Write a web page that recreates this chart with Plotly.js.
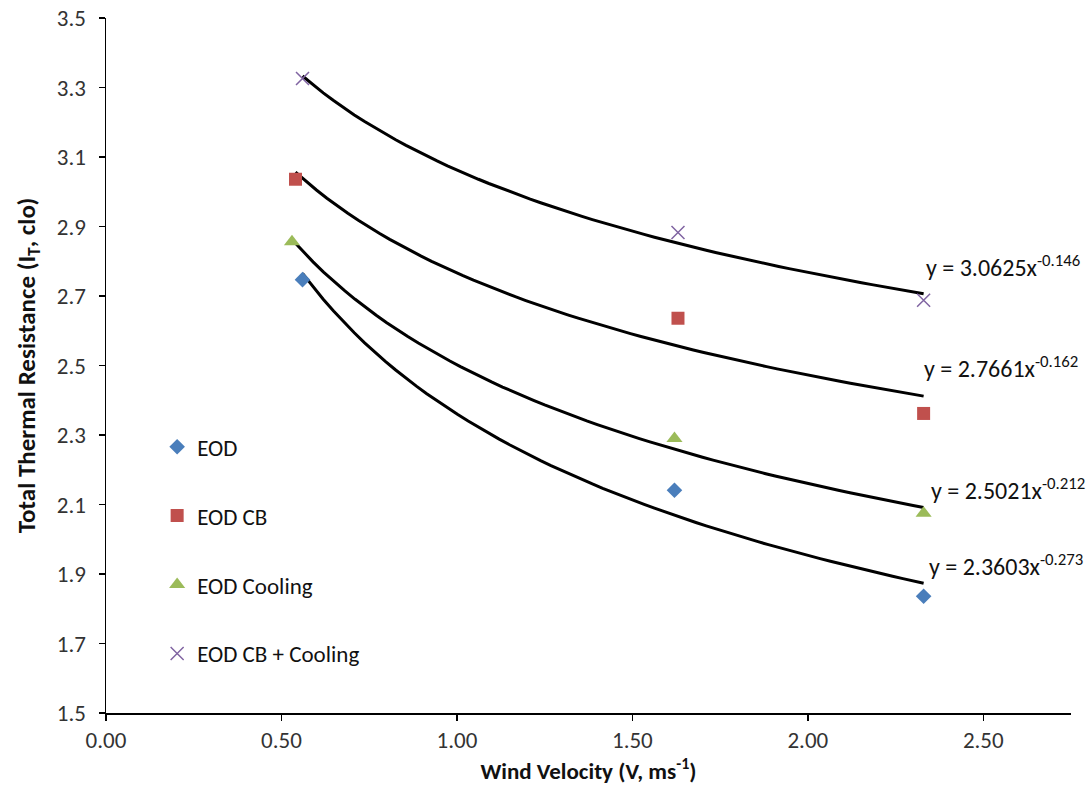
<!DOCTYPE html>
<html>
<head>
<meta charset="utf-8">
<script src="https://cdn.plot.ly/plotly-3.0.1.min.js"></script>
<style>html,body{margin:0;padding:0;background:#fff;}#chart{width:1086px;height:789px;}</style>
</head>
<body>
<div id="chart"></div>
<script>
// Series names
const seriesNames = ["EOD", "EOD CB", "EOD Cooling", "EOD CB + Cooling"];
// Wind velocity (x) per series
const xEOD = [0.56, 1.62, 2.33];
const xEODCB = [0.54, 1.63, 2.33];
const xEODCooling = [0.53, 1.62, 2.33];
const xEODCBCooling = [0.56, 1.63, 2.33];
// Total thermal resistance (y) per series
const yEOD = [2.747, 2.141, 1.836];
const yEODCB = [3.036, 2.636, 2.362];
const yEODCooling = [2.856, 2.290, 2.075];
const yEODCBCooling = [3.326, 2.883, 2.688];
// Power trendline coefficients shown on the chart: y = a * x^b
const trendA = [2.3603, 2.7661, 2.5021, 3.0625];
const trendB = [-0.273, -0.162, -0.212, -0.146];
const trendLabels = ["y = 2.3603x<sup>-0.273</sup>", "y = 2.7661x<sup>-0.162</sup>", "y = 2.5021x<sup>-0.212</sup>", "y = 3.0625x<sup>-0.146</sup>"];
const labelPosX = [2.34, 2.325, 2.345, 2.33];
const labelPosY = [1.925, 2.495, 2.145, 2.785];
// Tick labels
const xTickVals = [0, 0.5, 1, 1.5, 2, 2.5];
const xTickText = ["0.00", "0.50", "1.00", "1.50", "2.00", "2.50"];
const yTickVals = [1.5, 1.7, 1.9, 2.1, 2.3, 2.5, 2.7, 2.9, 3.1, 3.3, 3.5];
const yTickText = ["1.5", "1.7", "1.9", "2.1", "2.3", "2.5", "2.7", "2.9", "3.1", "3.3", "3.5"];

const xs = [xEOD, xEODCB, xEODCooling, xEODCBCooling];
const ys = [yEOD, yEODCB, yEODCooling, yEODCBCooling];
const colors = ["#4A7EBB", "#C0504D", "#9BBB59", "#8064A2"];
const symbols = ["diamond", "square", "triangle-up", "x-thin"];
const sizes = [12, 13, 14, 13];

const FONT = "Carlito, Calibri, Lato, 'Open Sans', sans-serif";

const traces = [];
// trendlines (drawn first, under markers)
for (let i = 0; i < 4; i++) {
  const xmin = Math.min(...xs[i]), xmax = Math.max(...xs[i]);
  const tx = [], ty = [];
  const n = 60;
  for (let k = 0; k <= n; k++) {
    const x = xmin + (xmax - xmin) * k / n;
    tx.push(x);
    ty.push(trendA[i] * Math.pow(x, trendB[i]));
  }
  traces.push({x: tx, y: ty, mode: "lines", type: "scatter", showlegend: false, hoverinfo: "skip",
    line: {color: "#000", width: 3}});
}
for (let i = 0; i < 4; i++) {
  const m = {symbol: symbols[i], size: sizes[i], color: colors[i]};
  if (symbols[i] === "x-thin") m.line = {color: colors[i], width: 1.5};
  traces.push({x: xs[i], y: ys[i], name: seriesNames[i], mode: "markers", type: "scatter",
    legendgroup: "g" + i, marker: m});
}

const annotations = trendLabels.map((t, i) => ({
  x: labelPosX[i], y: labelPosY[i], xref: "x", yref: "y", text: t, showarrow: false,
  xanchor: "left", yanchor: "middle", font: {family: FONT, size: 24, color: "#111"}
}));

const layout = {
  width: 1086, height: 789,
  margin: {l: 106, r: 15, t: 18, b: 76},
  paper_bgcolor: "#fff", plot_bgcolor: "#fff",
  font: {family: FONT, size: 23, color: "#333"},
  showlegend: true,
  legend: {x: 0.053, y: 0.414, xanchor: "left", yanchor: "top", traceorder: "grouped",
    tracegroupgap: 36, font: {family: FONT, size: 23, color: "#111"}, bgcolor: "rgba(0,0,0,0)"},
  xaxis: {range: [0, 2.75], tickvals: xTickVals, ticktext: xTickText,
    showgrid: false, zeroline: false, showline: true, linecolor: "#000", linewidth: 1.5,
    ticks: "outside", ticklen: 6, tickcolor: "#000", tickwidth: 1.5,
    tickfont: {family: FONT, size: 23, color: "#333"},
    title: {text: "<b>Wind Velocity (V, ms<sup>-1</sup>)</b>", font: {family: FONT, size: 23, color: "#111"}, standoff: 8}},
  yaxis: {range: [1.5, 3.5], tickvals: yTickVals, ticktext: yTickText,
    showgrid: false, zeroline: false, showline: true, linecolor: "#000", linewidth: 1.5,
    ticks: "outside", ticklen: 6, tickcolor: "#000", tickwidth: 1.5, ticklabelstandoff: 8,
    tickfont: {family: FONT, size: 23, color: "#333"},
    title: {text: "<b>Total Thermal Resistance (I<sub>T</sub>, clo)</b>", font: {family: FONT, size: 25, color: "#111"}, standoff: 14}},
  annotations: annotations
};

Plotly.newPlot("chart", traces, layout, {displayModeBar: false, staticPlot: true});
</script>
</body>
</html>
